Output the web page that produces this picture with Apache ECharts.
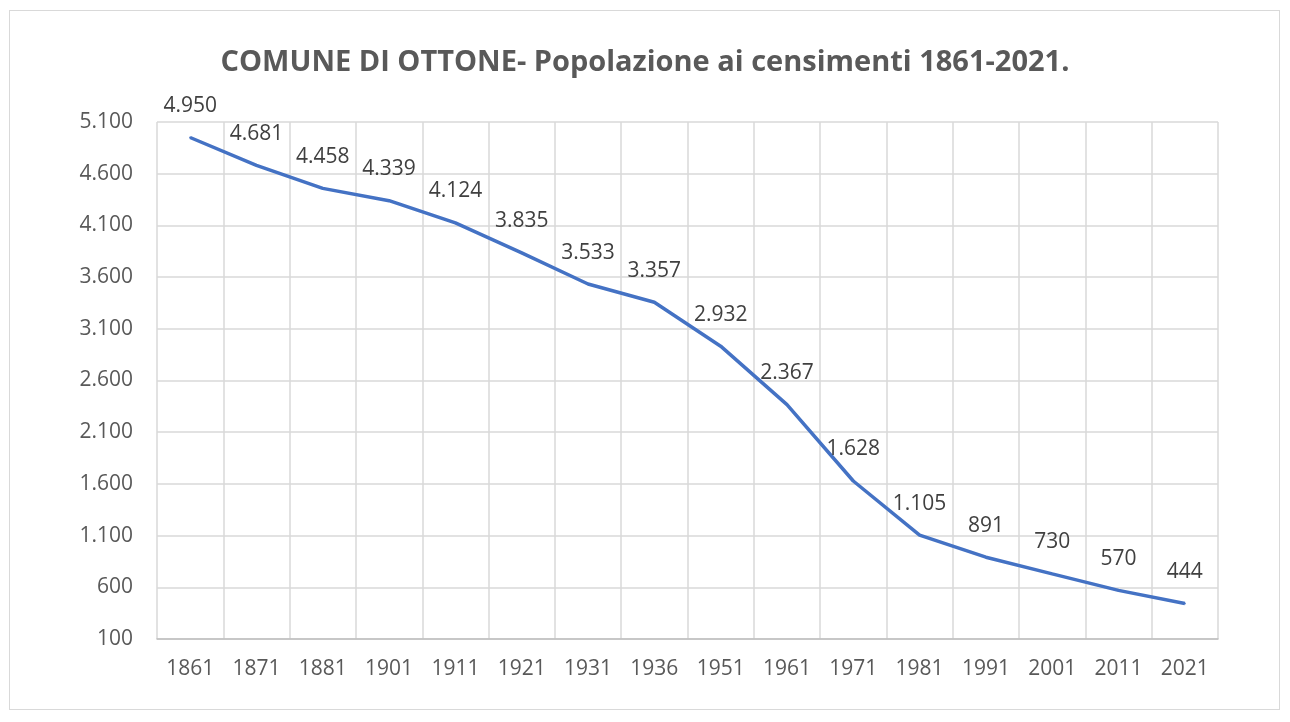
<!DOCTYPE html>
<html>
<head>
<meta charset="utf-8">
<script src="https://cdn.jsdelivr.net/npm/echarts@6/dist/echarts.min.js"></script>
<style>
  html, body { margin: 0; padding: 0; background: #fff; }
  #frame { position: absolute; left: 9px; top: 10px; width: 1271px; height: 700px; border: 1px solid #d9d9d9; box-sizing: border-box; }
  #chart { position: absolute; left: 0; top: 0; width: 1290px; height: 722px; }
</style>
</head>
<body>
<div id="frame"></div>
<div id="chart"></div>
<script>
// anni dei censimenti e popolazione residente
const years = ['1861','1871','1881','1901','1911','1921','1931','1936','1951','1961','1971','1981','1991','2001','2011','2021'];
const population = [4950, 4681, 4458, 4339, 4124, 3835, 3533, 3357, 2932, 2367, 1628, 1105, 891, 730, 570, 444];
const yMin = 100, yMax = 5100, yStep = 500;

const fmt = v => String(v).replace(/\B(?=(\d{3})+(?!\d))/g, '.');
const textColor = '#595959';
const font = '"Open Sans", "Liberation Sans", sans-serif';

let myChart = echarts.init(document.getElementById('chart'));
let option = {
    animation: false,
    textStyle: { fontFamily: font },
    title: {
        text: 'COMUNE DI OTTONE- Popolazione ai censimenti 1861-2021.',
        left: 'center',
        top: 43,
        textStyle: { color: textColor, fontSize: 29, fontWeight: 'bold', fontFamily: font }
    },
    grid: { left: 157, right: 72, top: 122, bottom: 83 },
    xAxis: {
        type: 'category',
        data: years,
        boundaryGap: true,
        axisLine: { lineStyle: { color: '#bfbfbf', width: 1.5 } },
        axisTick: { show: false },
        axisLabel: { color: textColor, fontSize: 21, margin: 20, fontFamily: font },
        splitLine: { show: true, lineStyle: { color: '#d9d9d9', width: 1.5 } }
    },
    yAxis: {
        type: 'value',
        min: yMin,
        max: yMax,
        interval: yStep,
        axisLine: { show: false },
        axisTick: { show: false },
        axisLabel: { color: textColor, fontSize: 21, margin: 24, formatter: fmt, fontFamily: font },
        splitLine: { lineStyle: { color: '#d9d9d9', width: 1.5 } }
    },
    series: [{
        type: 'line',
        data: population,
        symbol: 'circle',
        symbolSize: 2,
        showSymbol: true,
        itemStyle: { color: '#4472C4' },
        lineStyle: { color: '#4472C4', width: 3.5 },
        label: {
            show: true,
            position: 'top',
            distance: 20,
            color: '#404040',
            fontSize: 21,
            fontFamily: font,
            formatter: p => fmt(p.value)
        }
    }]
};
myChart.setOption(option);
</script>
</body>
</html>
